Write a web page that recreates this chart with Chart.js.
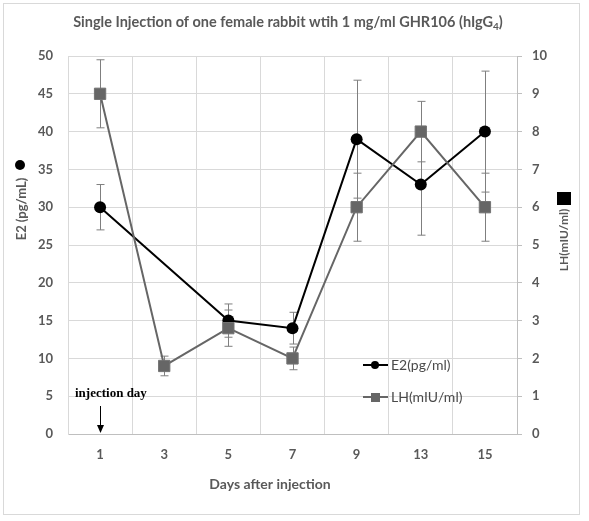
<!DOCTYPE html>
<html>
<head>
<meta charset="utf-8">
<script src="https://cdn.jsdelivr.net/npm/chart.js@4.4.1/dist/chart.umd.min.js"></script>
<style>
  html, body { margin: 0; padding: 0; background: #fff; }
  #wrap { width: 589px; height: 521px; }
</style>
</head>
<body>
<div id="wrap"><canvas id="chart"></canvas></div>
<script>
// Chart data
const days = ['1', '3', '5', '7', '9', '13', '15'];
const e2Values = [30, null, 15, 14, 39, 33, 40];
const e2Errors = [3, null, 2.2, 2.1, 7.8, 6.7, 8];
const lhValues = [9, 1.8, 2.8, 2, 6, 8, 6];
const lhErrors = [0.9, 0.26, 0.48, 0.3, 0.9, 0.8, 0.9];

const TEXT_GREY = '#595959';
const GRID_GREY = '#d9d9d9';
const LH_GREY = '#666666';

// Draws error bars, titles, legend and the injection note
const decorPlugin = {
    id: 'decor',
    beforeDraw(chart) {
        const ctx = chart.ctx;
        ctx.save();
        ctx.fillStyle = '#fff';
        ctx.fillRect(0, 0, chart.width, chart.height);
        ctx.strokeStyle = GRID_GREY;
        ctx.lineWidth = 1;
        ctx.strokeRect(3.5, 3.5, 576, 511);
        ctx.restore();
    },
    beforeDatasetsDraw(chart) {
        const ctx = chart.ctx;
        const x = chart.scales.x;
        const sets = [
            { vals: e2Values, errs: e2Errors, scale: chart.scales.y },
            { vals: lhValues, errs: lhErrors, scale: chart.scales.y1 }
        ];
        ctx.save();
        ctx.strokeStyle = '#7f7f7f';
        ctx.lineWidth = 1;
        sets.forEach(s => {
            s.vals.forEach((v, i) => {
                if (v === null || s.errs[i] === null) return;
                const px = Math.round(x.getPixelForValue(i)) + 0.5;
                const top = s.scale.getPixelForValue(v + s.errs[i]);
                const bot = s.scale.getPixelForValue(v - s.errs[i]);
                ctx.beginPath();
                ctx.moveTo(px, top); ctx.lineTo(px, bot);
                ctx.moveTo(px - 4, top); ctx.lineTo(px + 4, top);
                ctx.moveTo(px - 4, bot); ctx.lineTo(px + 4, bot);
                ctx.stroke();
            });
        });
        ctx.restore();
    },
    afterDraw(chart) {
        const ctx = chart.ctx;
        ctx.save();

        // chart title with subscript
        const mainTxt = 'Single Injection of one female rabbit wtih 1 mg/ml GHR106 (hIgG';
        ctx.fillStyle = TEXT_GREY;
        ctx.textBaseline = 'alphabetic';
        ctx.font = 'bold 14.5px Lato';
        const w1 = ctx.measureText(mainTxt).width;
        ctx.font = 'bold 10px Lato';
        const w2 = ctx.measureText('4').width;
        ctx.font = 'bold 14.5px Lato';
        const w3 = ctx.measureText(')').width;
        let tx = 288 - (w1 + w2 + w3) / 2;
        ctx.textAlign = 'left';
        ctx.fillText(mainTxt, tx, 27);
        ctx.font = 'bold 10px Lato';
        ctx.fillText('4', tx + w1, 30);
        ctx.font = 'bold 14.5px Lato';
        ctx.fillText(')', tx + w1 + w2, 27);

        // left axis title with dot
        ctx.save();
        ctx.translate(22, 209);
        ctx.rotate(-Math.PI / 2);
        ctx.textAlign = 'center';
        ctx.textBaseline = 'middle';
        ctx.font = 'bold 13px Lato';
        ctx.fillText('E2 (pg/mL)', 0, 0);
        ctx.restore();
        ctx.fillStyle = '#000';
        ctx.beginPath();
        ctx.arc(20, 165, 5, 0, Math.PI * 2);
        ctx.fill();

        // right axis title with square
        ctx.save();
        ctx.fillStyle = TEXT_GREY;
        ctx.translate(564, 240);
        ctx.rotate(-Math.PI / 2);
        ctx.textAlign = 'center';
        ctx.textBaseline = 'middle';
        ctx.font = 'bold 12px Lato';
        ctx.fillText('LH(mIU/ml)', 0, 0);
        ctx.restore();
        ctx.fillStyle = '#000';
        ctx.fillRect(557, 192, 14, 13);

        // x axis title
        ctx.fillStyle = TEXT_GREY;
        ctx.textAlign = 'center';
        ctx.textBaseline = 'middle';
        ctx.font = 'bold 14px Lato';
        ctx.fillText('Days after injection', 270, 484);

        // legend
        const lx = 363;
        ctx.lineWidth = 2;
        ctx.strokeStyle = '#000';
        ctx.beginPath(); ctx.moveTo(lx, 365); ctx.lineTo(lx + 25, 365); ctx.stroke();
        ctx.fillStyle = '#000';
        ctx.beginPath(); ctx.arc(lx + 12, 365, 4, 0, Math.PI * 2); ctx.fill();
        ctx.strokeStyle = LH_GREY;
        ctx.beginPath(); ctx.moveTo(lx, 397); ctx.lineTo(lx + 25, 397); ctx.stroke();
        ctx.fillStyle = LH_GREY;
        ctx.fillRect(lx + 8, 393, 9, 9);
        ctx.fillStyle = '#4a4a4a';
        ctx.textAlign = 'left';
        ctx.font = '14px Lato';
        ctx.fillText('E2(pg/ml)', lx + 28, 365);
        ctx.fillText('LH(mIU/ml)', lx + 28, 397);

        // injection day note with arrow
        const ax = Math.round(chart.scales.x.getPixelForValue(0)) + 0.5;
        ctx.fillStyle = '#000';
        ctx.font = 'bold 13px "Liberation Serif"';
        ctx.textAlign = 'left';
        ctx.textBaseline = 'alphabetic';
        ctx.fillText('injection day', 75, 397);
        ctx.strokeStyle = '#000';
        ctx.lineWidth = 1;
        ctx.beginPath(); ctx.moveTo(ax, 406); ctx.lineTo(ax, 428); ctx.stroke();
        ctx.beginPath();
        ctx.moveTo(ax - 3.5, 425); ctx.lineTo(ax + 3.5, 425); ctx.lineTo(ax, 433);
        ctx.closePath(); ctx.fill();

        ctx.restore();
    }
};

const tickFont = { family: 'Lato', weight: 'bold', size: 13 };

new Chart(document.getElementById('chart'), {
    type: 'line',
    data: {
        labels: days,
        datasets: [
            {
                label: 'LH(mIU/ml)',
                data: lhValues,
                yAxisID: 'y1',
                order: 0,
                borderColor: LH_GREY,
                backgroundColor: LH_GREY,
                borderWidth: 2,
                pointStyle: 'rect',
                pointRadius: 8,
                pointBorderColor: '#737373',
                pointBorderWidth: 1,
                tension: 0,
                spanGaps: true
            },
            {
                label: 'E2(pg/ml)',
                data: e2Values,
                yAxisID: 'y',
                order: 1,
                borderColor: '#000',
                backgroundColor: '#000',
                borderWidth: 2,
                pointStyle: 'circle',
                pointRadius: 6,
                pointBorderWidth: 0,
                tension: 0,
                spanGaps: true
            }
        ]
    },
    options: {
        responsive: true,
        maintainAspectRatio: false,
        animation: false,
        layout: { padding: { top: 56, left: 0, right: 0, bottom: 0 } },
        plugins: {
            legend: { display: false },
            title: { display: false },
            tooltip: { enabled: false }
        },
        scales: {
            x: {
                type: 'category',
                offset: true,
                grid: { offset: true, color: GRID_GREY, drawTicks: false },
                border: { color: '#bfbfbf' },
                ticks: { font: tickFont, color: TEXT_GREY, padding: 13 },
                afterFit: s => { s.height = 87; }
            },
            y: {
                position: 'left',
                min: 0,
                max: 50,
                grid: { color: GRID_GREY, drawTicks: false },
                border: { color: GRID_GREY },
                ticks: { stepSize: 5, font: tickFont, color: TEXT_GREY, padding: 15 },
                afterFit: s => { s.width = 68; }
            },
            y1: {
                position: 'right',
                min: 0,
                max: 10,
                grid: { drawOnChartArea: false, color: '#bfbfbf', tickLength: 5 },
                border: { color: '#bfbfbf' },
                ticks: { stepSize: 1, font: tickFont, color: TEXT_GREY, padding: 10 },
                afterFit: s => { s.width = 72; }
            }
        }
    },
    plugins: [decorPlugin]
});
</script>
</body>
</html>
